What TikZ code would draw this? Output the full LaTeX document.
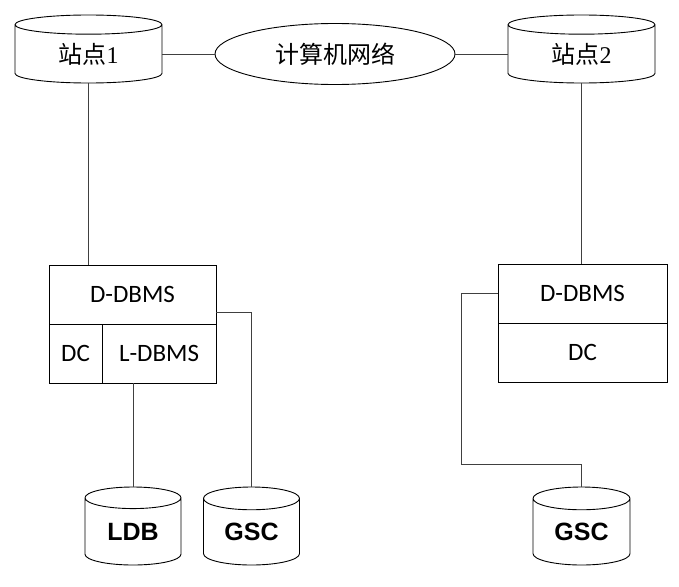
\documentclass[tikz,border=0pt]{standalone}
\usepackage{fontspec}
\newfontfamily\cjk{Noto Sans CJK SC}
\newfontfamily\carlito{Carlito}
\newfontfamily\arialf{Liberation Sans}
\newfontfamily\timesf{Liberation Serif}
\usetikzlibrary{shapes.geometric,positioning,calc}

\begin{document}
\begin{tikzpicture}
[x=1pt,y=-1pt,
    site/.style={cylinder,shape border rotate=90,draw,line width=.9pt,inner sep=0pt,
        aspect=.32,minimum width=147pt,minimum height=68pt,anchor=shape center,
        font=\fontsize{24}{28}\selectfont},
    db/.style={cylinder,shape border rotate=90,draw,line width=.9pt,inner sep=0pt,
        aspect=.42,minimum width=96pt,minimum height=78pt,anchor=shape center,
        font=\arialf\bfseries\fontsize{25}{30}\selectfont},
    net/.style={ellipse,draw,line width=.9pt,inner sep=0pt,
        minimum width=240pt,minimum height=61pt,font=\cjk\fontsize{24}{28}\selectfont},
    part/.style={rectangle,draw,line width=.9pt,inner sep=0pt,minimum height=59pt,
        font=\carlito\fontsize{25}{30}\selectfont},
    link/.style={draw=black!75,line width=.8pt}]
\useasboundingbox (0,0) rectangle (679,586);
%%%%% the two sites and the network
\node (site1) [site] at (88.5,49) {{\cjk 站点}\timesf 1};
\node (cn) [net] at (335,54) {计算机网络};
\node (site2) [site] at (581.5,49) {{\cjk 站点}\timesf 2};
%% site 1 modules
\node (dd1) [part,minimum width=167pt] at (132.5,294.5) {D-DBMS};
\node (dc1) [part,minimum width=53pt] at (75.5,353.5) {DC};
\node (ld1) [part,minimum width=114pt] at (159,353.5) {L-DBMS};
%% site 2 modules
\node (dd2) [part,minimum width=169pt] at (582.5,293.5) {D-DBMS};
\node (dc2) [part,minimum width=169pt] at (582.5,352.5) {DC};
%% databases
\node (ldb) [db] at (133,526) {LDB};
\node (gsc1) [db] at (251.5,526) {GSC};
\node (gsc2) [db,minimum width=97pt] at (581.5,526) {GSC};
%% edges
\draw[link] (cn.west) -- (cn.west-|site1.east);
\draw[link] (cn.east) -- (cn.east-|site2.west);
\draw[link] (site1.south) -- (site1.south|-dd1.north);
\draw[link] (site2.south) -- (site2.south|-dd2.north);
\draw[link] (ldb.north) -- (ldb.north|-ld1.south);
\coordinate (out1) at ($(dd1.south east)+(0,-12)$);
\draw[link] (out1) -| (gsc1.north);
\coordinate (bend2) at ($(gsc2.north)+(0,-22)$);
\draw[link] (dd2.west) -- ++(-36,0) |- (bend2) -- (gsc2.north);
\end{tikzpicture}
\end{document}
